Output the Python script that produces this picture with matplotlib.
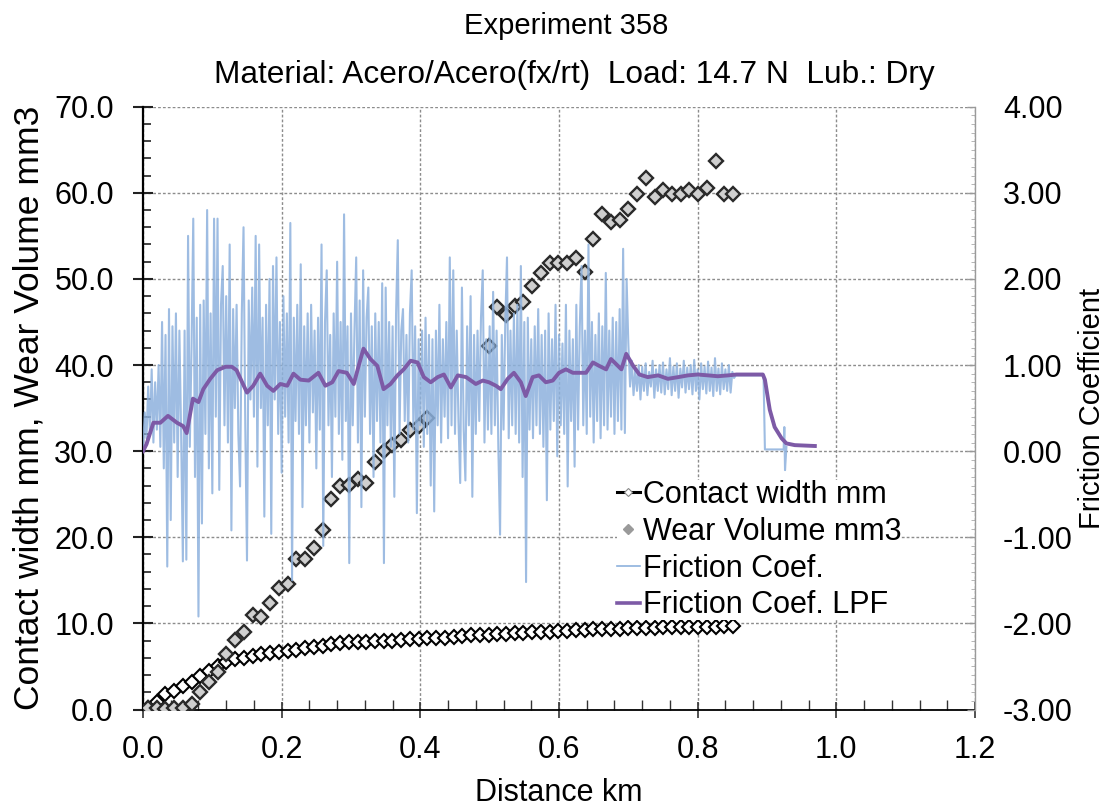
import numpy as np
import matplotlib
matplotlib.use("Agg")
import matplotlib.pyplot as plt
from matplotlib.lines import Line2D
from matplotlib.ticker import MultipleLocator, FormatStrFormatter

plt.rcParams['font.family'] = ['Liberation Sans', 'DejaVu Sans']

# ---------------- text ----------------
title = "Experiment 358"
subtitle = "Material: Acero/Acero(fx/rt)  Load: 14.7 N  Lub.: Dry"
x_label = "Distance km"
left_label = "Contact width mm, Wear Volume mm3"
right_label = "Friction Coefficient"
legend_labels = ["Contact width mm", "Wear Volume mm3", "Friction Coef.", "Friction Coef. LPF"]

# ---------------- data ----------------
# periodic measurements (distance km = sample_start + k * sample_step)
sample_start = 0.007
sample_step = 0.0126
contact_width = [0.2, 0.9, 1.8, 2.2, 2.7, 3.2, 3.9, 4.5, 5.0, 5.5,
                 5.85, 6.0, 6.25, 6.4, 6.55, 6.65, 6.75, 6.9, 7.1, 7.25,
                 7.4, 7.6, 7.75, 7.8, 7.8, 7.85, 7.9, 7.95, 8.0, 8.1,
                 8.15, 8.2, 8.25, 8.3, 8.35, 8.45, 8.55, 8.6, 8.65, 8.7,
                 8.75, 8.8, 8.85, 8.9, 8.95, 9.0, 9.05, 9.1, 9.15, 9.2,
                 9.25, 9.3, 9.35, 9.35, 9.4, 9.45, 9.5, 9.5, 9.5, 9.55,
                 9.55, 9.55, 9.6, 9.6, 9.6, 9.6, 9.65, 9.65]
wear_volume = [0.2, 0.2, 0.1, 0.2, 0.2, 0.6, 2.0, 3.2, 4.4, 6.5,
               8.1, 9.0, 11.0, 10.7, 12.4, 14.1, 14.6, 17.5, 17.5, 18.8,
               20.8, 24.5, 25.9, 26.1, 26.8, 26.3, 28.7, 30.0, 30.7, 31.3,
               32.4, 32.9, 33.8, np.nan, np.nan, np.nan, np.nan, np.nan, np.nan, 42.2,
               46.7, 45.8, 46.9, 47.3, 49.2, 50.7, 51.9, 51.9, 51.8, 52.4,
               50.8, 54.6, 57.5, 56.6, 56.9, 58.1, 59.9, 61.7, 59.5, 60.3,
               59.9, 59.9, 60.3, 59.9, 60.6, 63.7, 59.9, 59.9]

# raw friction coefficient, sampled every friction_step km from 0
friction_step = 0.0025
friction_raw = [
    0.00, 0.45, 0.15, 0.75, 0.20, 0.95, 0.10, 0.80,
    0.25, 1.00, 0.05, 1.50, -0.20, 1.35, -1.34, 1.65,
    -0.80, 1.45, 0.10, 1.60, -0.30, 1.40, 0.20, -1.28,
    1.40, -1.26, 2.50, 0.05, 1.20, 2.70, -0.30, 1.55,
    -1.92, 1.70, -0.84, 1.75, 0.20, 2.80, -0.20, 1.60,
    -0.49, 2.70, 0.40, 2.70, -0.45, 1.70, 2.15, 0.30,
    1.80, 0.10, 2.40, -0.92, 1.65, 0.50, 1.70, 0.20,
    -0.41, 1.60, 2.60, 0.30, -1.27, 1.75, 0.60, 1.90,
    0.40, 2.50, -0.18, 2.40, 0.50, 1.55, -0.76, 1.70,
    0.30, 2.00, -0.96, 2.15, 0.60, 2.25, 0.20, 1.50,
    -0.25, 1.80, 0.40, 1.60, 0.10, 2.65, -1.50, 1.55,
    0.35, 1.70, 0.20, 2.17, -0.65, 1.45, 0.30, 1.60,
    0.10, 1.70, 0.45, 1.40, -0.20, 1.55, 0.25, 2.40,
    -1.10, 1.50, 2.10, 0.30, 1.35, -0.30, 1.60, 0.40,
    2.20, 0.20, 1.50, -0.10, 2.75, 0.35, 1.45, -1.30,
    1.60, 0.30, 1.40, 2.25, 0.10, 1.75, -0.65, 2.10,
    0.40, 1.55, 1.90, 0.20, 1.45, -0.30, 1.60, 0.35,
    1.50, 0.10, 1.95, -1.30, 1.90, 0.30, 1.50, 0.05,
    1.45, -0.53, 1.60, 2.45, 0.20, 1.40, 1.65, 0.35,
    1.35, 0.10, 1.60, 2.10, 0.25, 1.45, -0.72, 1.30,
    0.30, 1.40, 0.05, 1.55, 0.20, 1.35, -0.40, 1.30,
    -0.70, 1.40, 0.30, 1.70, 0.10, 1.30, 0.40, 1.50,
    0.15, 2.25, 0.30, 2.10, 0.20, 1.40, 0.35, -0.37,
    1.90, 0.25, -0.34, 1.45, 0.30, 1.80, -0.53, 1.35,
    0.20, 1.40, 0.35, 1.55, 2.10, 0.10, 1.30, 0.25,
    1.45, 0.20, 1.85, 0.30, 1.40, 0.05, -0.97, 1.35,
    0.25, 1.50, 2.25, 0.15, 1.40, 0.30, 1.60, 0.20,
    1.70, 0.10, 2.15, -0.30, 1.50, -1.52, 1.55, 0.25,
    1.30, 0.15, 1.45, 0.30, 1.65, 0.20, 1.35, 0.05,
    1.40, -0.57, 1.60, 0.25, 1.30, 0.35, 1.70, -0.06,
    1.35, 0.30, 1.25, 0.20, 1.70, -0.41, 1.40, 0.35,
    1.30, -0.18, 1.70, 0.25, 1.45, 2.15, 0.30, 1.40,
    0.20, 2.40, 0.40, 1.50, 0.10, 1.35, 0.35, 1.60,
    0.15, 1.45, 0.30, 2.07, 0.25, 1.40, 0.40, 1.55,
    0.20, 1.50, 0.35, 1.65, 0.25, 2.35, 0.21, 2.00,
    1.25, 0.75, 1.05, 0.65, 0.95, 0.70, 1.00, 0.60,
    0.98, 0.70, 1.02, 0.65, 0.92, 0.75, 1.05, 0.62,
    0.95, 0.70, 1.00, 0.68, 1.03, 0.66, 0.95, 0.72,
    1.08, 0.65, 0.98, 0.70, 1.02, 0.62, 0.96, 0.74,
    1.05, 0.68, 0.97, 0.72, 1.00, 0.66, 1.06, 0.70,
    0.95, 0.60, 1.02, 0.72, 0.98, 0.67, 1.04, 0.70,
    0.97, 0.64, 1.08, 0.70, 0.96, 0.66, 1.02, 0.72,
    0.95, 0.70, 1.00, 0.68, 0.92, 0.85,
]
# end of the raw record (after the regular sampling)
friction_tail_x = [0.855, 0.895, 0.897, 0.924, 0.925, 0.926, 0.928]
friction_tail = [0.88, 0.88, 0.02, 0.02, 0.28, -0.22, 0.05]

# low-pass filtered friction coefficient
lpf_x = [0.0, 0.005, 0.015, 0.025, 0.036, 0.049, 0.058, 0.063, 0.072, 0.080,
         0.087, 0.097, 0.107, 0.119, 0.128, 0.135, 0.143, 0.150, 0.159, 0.169,
         0.179, 0.188, 0.198, 0.208, 0.217, 0.227, 0.239, 0.253, 0.263, 0.273,
         0.282, 0.294, 0.304, 0.311, 0.318, 0.328, 0.338, 0.347, 0.357, 0.367,
         0.376, 0.386, 0.396, 0.405, 0.415, 0.425, 0.434, 0.444, 0.454, 0.466,
         0.480, 0.490, 0.499, 0.509, 0.516, 0.526, 0.535, 0.545, 0.552, 0.562,
         0.571, 0.581, 0.591, 0.600, 0.610, 0.620, 0.629, 0.639, 0.649, 0.658,
         0.668, 0.675, 0.685, 0.690, 0.697, 0.707, 0.716, 0.728, 0.743, 0.757,
         0.772, 0.786, 0.800, 0.815, 0.829, 0.844, 0.856, 0.873, 0.894, 0.897,
         0.904, 0.911, 0.921, 0.928, 0.940, 0.969]
lpf_y = [0.0, 0.08, 0.33, 0.33, 0.41, 0.33, 0.29, 0.21, 0.61, 0.57,
         0.72, 0.84, 0.94, 0.98, 0.98, 0.94, 0.80, 0.68, 0.76, 0.90,
         0.76, 0.70, 0.78, 0.76, 0.90, 0.83, 0.82, 0.91, 0.76, 0.80,
         0.93, 0.91, 0.78, 0.99, 1.19, 1.07, 0.99, 0.72, 0.78, 0.88,
         0.95, 1.05, 1.03, 0.86, 0.80, 0.86, 0.89, 0.74, 0.88, 0.86,
         0.78, 0.82, 0.80, 0.76, 0.72, 0.84, 0.91, 0.80, 0.64, 0.86,
         0.88, 0.80, 0.82, 0.91, 0.95, 0.91, 0.91, 0.91, 1.03, 0.99,
         0.95, 1.07, 0.99, 0.95, 1.13, 0.99, 0.89, 0.86, 0.88, 0.84,
         0.86, 0.88, 0.89, 0.88, 0.87, 0.88, 0.89, 0.89, 0.89, 0.83,
         0.48, 0.28, 0.15, 0.09, 0.07, 0.06]

# ---------------- derived positions ----------------
sample_x = sample_start + sample_step * np.arange(len(contact_width))
raw_x = friction_step * np.arange(len(friction_raw))
raw_x_all = np.concatenate([raw_x, friction_tail_x])
raw_y_all = np.concatenate([friction_raw, friction_tail])

# ---------------- colours ----------------
raw_color = '#8db1dd'
lpf_color = '#7d5aa6'
grid_color = '#8c8c8c'

FS = 22

fig = plt.figure(figsize=(11.17, 8.11), dpi=100)
ax = fig.add_axes([0.12802, 0.12515, 0.74485, 0.74328])
ax2 = ax.twinx()

# left axis series
ax.plot(sample_x, contact_width, color='black', lw=1.0, marker='D', ms=7.2,
        mfc='white', mec='black', mew=1.5, zorder=3)
ax.plot(sample_x, wear_volume, ls='none', marker='D', ms=7.2,
        mfc='#cfcfcf', mec='#2a2a2a', mew=1.7, zorder=3)

# right axis series
ax2.plot(raw_x_all, raw_y_all, color=raw_color, lw=1.5, alpha=0.85, zorder=2)
ax2.plot(lpf_x, lpf_y, color=lpf_color, lw=2.8, zorder=3)

# axes limits / ticks
ax.set_xlim(0.0, 1.2)
ax.set_ylim(0.0, 70.0)
ax2.set_ylim(-3.0, 4.0)

ax.xaxis.set_major_locator(MultipleLocator(0.2))
ax.xaxis.set_minor_locator(MultipleLocator(0.04))
ax.yaxis.set_major_locator(MultipleLocator(10))
ax.yaxis.set_minor_locator(MultipleLocator(2))
ax2.yaxis.set_major_locator(MultipleLocator(1))
ax2.yaxis.set_minor_locator(MultipleLocator(0.1))
ax.xaxis.set_major_formatter(FormatStrFormatter('%.1f'))
ax.yaxis.set_major_formatter(FormatStrFormatter('%.1f'))
ax2.yaxis.set_major_formatter(FormatStrFormatter('%.2f'))

ax.tick_params(axis='x', which='major', direction='inout', length=12, width=1.2,
               labelsize=FS, pad=12, color='#333333')
ax.tick_params(axis='x', which='minor', direction='in', length=7, width=1.0, color='#333333')
ax.tick_params(axis='y', which='major', direction='inout', length=14, width=1.5,
               labelsize=FS, pad=14, color='#222222')
ax.tick_params(axis='y', which='minor', direction='in', length=6, width=1.2, color='#222222')
ax2.tick_params(axis='y', which='major', direction='in', length=6, width=1.0,
                labelsize=FS, pad=20, color='#999999')
ax2.tick_params(axis='y', which='minor', direction='in', length=3, width=0.6, color='#aaaaaa')

ax.spines['top'].set_visible(False)
ax2.spines['top'].set_visible(False)
ax.spines['right'].set_visible(False)
ax.spines['left'].set_linewidth(1.6)
ax.spines['bottom'].set_linewidth(1.3)
ax2.spines['left'].set_visible(False)
ax2.spines['bottom'].set_visible(False)
ax2.spines['right'].set_color('#9a9a9a')
ax2.spines['right'].set_linewidth(1.0)

ax.grid(True, which='major', color=grid_color, ls=(0, (2.0, 1.5)), lw=1.0)
ax.set_axisbelow(True)

ax.set_xlabel(x_label, fontsize=FS, labelpad=10)
ax.set_ylabel(left_label, fontsize=25.5, labelpad=6)
ax2.set_ylabel(right_label, fontsize=21, labelpad=4)

fig.text(0.507, 0.968, title, ha='center', va='center', fontsize=21)
fig.text(0.514, 0.9075, subtitle, ha='center', va='center', fontsize=22.8)

handles = [
    Line2D([], [], color='black', lw=2.2, marker='D', ms=4, mfc='white', mec='#888888', mew=0.8),
    Line2D([], [], ls='none', marker='D', ms=5, mfc='#9a9a9a', mec='#9a9a9a'),
    Line2D([], [], color=raw_color, lw=1.2),
    Line2D([], [], color=lpf_color, lw=2.6),
]
leg = ax2.legend(handles, legend_labels, loc='upper left',
                 bbox_to_anchor=(0.552, 0.408), bbox_transform=fig.transFigure,
                 frameon=True, fontsize=FS, handlelength=0.75, handletextpad=0.1,
                 labelspacing=0.22, borderpad=0.0, borderaxespad=0.0)
leg.get_frame().set_facecolor('white')
leg.get_frame().set_edgecolor('none')
leg.get_frame().set_alpha(1.0)

fig.savefig('out.png', dpi=100)
